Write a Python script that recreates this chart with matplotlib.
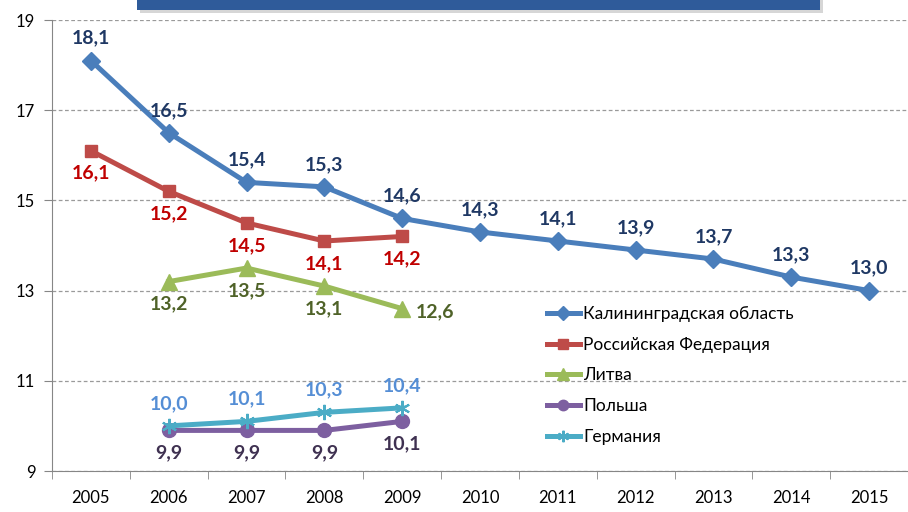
import matplotlib.pyplot as plt
from matplotlib.patches import Rectangle

plt.rcParams['font.family'] = ['Lato', 'DejaVu Sans']

years = ['2005', '2006', '2007', '2008', '2009', '2010',
         '2011', '2012', '2013', '2014', '2015']
kaliningrad = [18.1, 16.5, 15.4, 15.3, 14.6, 14.3, 14.1, 13.9, 13.7, 13.3, 13.0]
russia = [16.1, 15.2, 14.5, 14.1, 14.2]
lithuania = [13.2, 13.5, 13.1, 12.6]
poland = [9.9, 9.9, 9.9, 10.1]
germany = [10.0, 10.1, 10.3, 10.4]

names = ['Калининградская область', 'Российская Федерация', 'Литва',
         'Польша', 'Германия']

fig = plt.figure(figsize=(9.08, 5.12), dpi=100)
ax = fig.add_axes([52 / 908, 41 / 512, 1 - 52 / 908, 451 / 512])

# blue title bar cut off at the top
fig.patches.append(Rectangle((140 / 908, 1 - 13 / 512), 683 / 908, 13 / 512,
                             transform=fig.transFigure, facecolor='#8c8c8c',
                             alpha=0.35, zorder=0))
fig.patches.append(Rectangle((137 / 908, 1 - 10 / 512), 683 / 908, 10 / 512,
                             transform=fig.transFigure, facecolor='#2f5b9a',
                             zorder=1))


def fmt(v):
    return f'{v:.1f}'.replace('.', ',')


def draw(x0, values, name, color, marker, size, label_color, where):
    xs = list(range(x0, x0 + len(values)))
    kw = dict(markersize=size, markeredgecolor=color)
    if marker == 'ast':
        kw = dict(marker=(6, 2, 0), markersize=size, markeredgewidth=1.5,
                  markeredgecolor=color)
    else:
        kw['marker'] = marker
    ax.plot(xs, values, color=color, lw=3.6, label=name,
            markerfacecolor=color, zorder=3, **kw)
    for i, (x, v) in enumerate(zip(xs, values)):
        pos = where[i] if isinstance(where, list) else where
        if pos == 'above':
            off, va, ha = (0, 10), 'bottom', 'center'
        elif pos == 'right':
            off, va, ha = (10, -2), 'center', 'left'
        else:
            off, va, ha = (0, -10), 'top', 'center'
        ax.annotate(fmt(v), (x, v), xytext=off, textcoords='offset points',
                    ha=ha, va=va, fontsize=14, fontweight='bold',
                    color=label_color, zorder=4)


draw(0, kaliningrad, names[0], '#4a7ebb', 'D', 9, '#1f3864', 'above')
draw(0, russia, names[1], '#be4b48', 's', 9, '#c00000', 'below')
draw(1, lithuania, names[2], '#9bbb59', '^', 11, '#4f6228',
     ['below', 'below', 'below', 'right'])
draw(1, poland, names[3], '#7d5fa0', 'o', 10, '#3f3151', 'below')
draw(1, germany, names[4], '#4bacc6', 'ast', 11, '#558ed5', 'above')

ax.set_xlim(-0.5, 10.45)
ax.set_ylim(9, 19)
ax.set_yticks([9, 11, 13, 15, 17, 19])
ax.set_xticks(range(len(years)))
ax.set_xticklabels(years)
ax.set_xticks([i + 0.5 for i in range(-1, 11)], minor=True)
ax.tick_params(axis='x', which='major', length=0, pad=14, labelsize=12)
ax.tick_params(axis='x', which='minor', length=6, color='#868686')
ax.tick_params(axis='y', length=6, color='#868686', labelsize=12, pad=6)
ax.grid(axis='y', linestyle=(0, (3, 2)), color='#9a9a9a', lw=0.9)
ax.set_axisbelow(True)
for side in ('top', 'right'):
    ax.spines[side].set_visible(False)
for side in ('left', 'bottom'):
    ax.spines[side].set_color('#868686')

fig.legend(loc='upper left', bbox_to_anchor=(540 / 908, 1 - 299 / 512),
           frameon=False, fontsize=12.5, handlelength=1.9, handletextpad=0.2,
           labelspacing=0.85, borderaxespad=0, markerscale=0.75)

fig.savefig('out.png', dpi=100)
